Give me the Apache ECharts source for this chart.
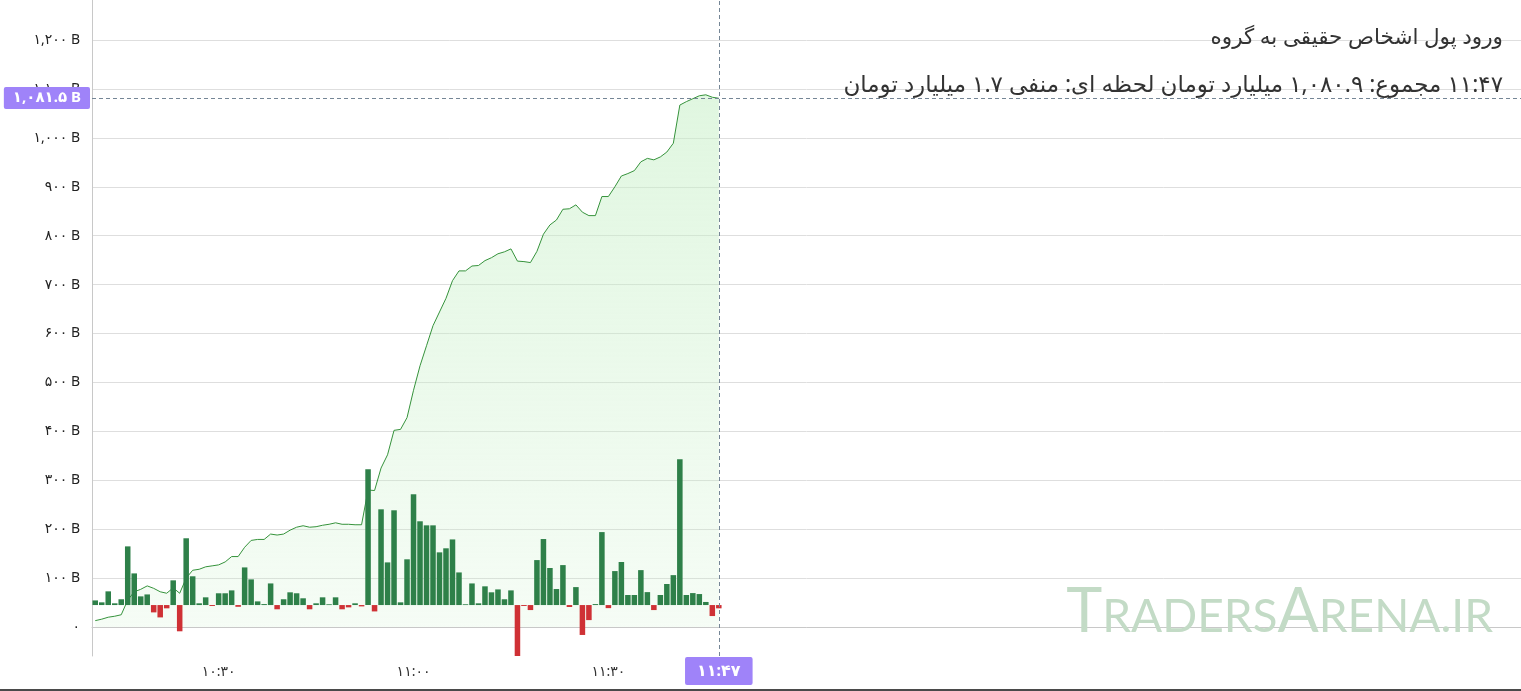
<!DOCTYPE html>
<html>
<head>
<meta charset="utf-8">
<script src="https://cdn.jsdelivr.net/npm/echarts@6/dist/echarts.min.js"></script>
<style>
  html, body { margin: 0; padding: 0; background: #fff; }
  #chart { width: 1521px; height: 691px; }
</style>
</head>
<body>
<div id="chart"></div>
<script>
  // minute bars from 10:11, the axis keeps going (empty) to the right edge
  const startTime = '10:11';
  const slotCount = 220;
  const shownTimes = ['10:30', '11:00', '11:30'];

  // cumulative inflow (billion toman), one value per minute 10:11 .. 11:47
  const totalFlow = [
    13, 16, 20, 22, 25, 55, 72, 77, 84, 79,
    72, 69, 80, 69, 100, 116, 118, 123, 125, 127,
    133, 144, 144, 163, 177, 179, 179, 190, 188, 190,
    198, 204, 207, 204, 205, 208, 210, 213, 210, 210,
    209, 209, 280, 279, 325, 352, 402, 404, 428, 484,
    534, 575, 616, 644, 672, 708, 728, 728, 738, 739,
    749, 755, 763, 767, 773, 748, 747, 745, 768, 803,
    822, 832, 854, 855, 863, 848, 841, 841, 880, 880,
    900, 922, 927, 933, 951, 958, 955, 961, 971, 989,
    1067, 1074, 1080, 1086, 1088, 1083, 1080.9
  ];

  // per-minute inflow (billion toman)
  const minuteFlow = [
    2.4, 1.4, 7.1, 0.9, 3.0, 30.4, 16.4, 4.5, 5.5, -3.8,
    -6.4, -1.7, 12.8, -13.6, 34.6, 14.9, 0.9, 4.0, -0.5, 6.1,
    6.1, 7.6, -0.9, 19.5, 13.3, 1.9, 0.5, 11.2, -2.2, 3.0,
    6.6, 6.1, 3.5, -2.2, 0.9, 4.0, 0.4, 4.0, -2.2, -1.2,
    0.9, -0.7, 70.3, -3.3, 49.6, 22.1, 49.1, 1.4, 23.7, 57.4,
    43.4, 41.3, 41.3, 27.3, 29.4, 34.0, 16.9, 0.4, 11.2, 0.9,
    9.7, 6.6, 8.1, 3.0, 7.6, -28, -0.5, -2.6, 23.3, 34.2,
    19.2, 8.3, 20.7, -1.0, 9.3, -15.5, -7.8, 0.5, 37.8, -1.6,
    17.6, 22.3, 5.2, 5.2, 18.1, 6.7, -2.6, 5.2, 10.9, 15.5,
    75.6, 5.2, 6.2, 5.7, 1.6, -5.7, -1.7
  ];

  const cursorTime = '11:47';
  const cursorValue = 1081.5;
  const titleText = 'ورود پول اشخاص حقیقی به گروه';

  const faDigits = '۰۱۲۳۴۵۶۷۸۹';
  function fa(s) {
    return String(s).replace(/[0-9]/g, d => faDigits[d]);
  }
  function fmtB(v) {
    if (v === 0) return '۰';
    return fa(v.toLocaleString('en-US', {maximumFractionDigits: 1})) + ' B';
  }

  let times = [];
  let [h, m] = startTime.split(':').map(Number);
  for (let i = 0; i < slotCount; i++) {
    times.push(h + ':' + (m < 10 ? '0' + m : m));
    m++;
    if (m === 60) { m = 0; h++; }
  }

  const lastTotal = totalFlow[totalFlow.length - 1];
  const lastMinute = minuteFlow[minuteFlow.length - 1];
  // leading RLM so the line runs right-to-left even though it starts with digits
  const infoText = '\u200F' + fa(cursorTime) + ' مجموع: ' + fa(lastTotal.toLocaleString('en-US', {minimumFractionDigits: 1})) +
    ' میلیارد تومان لحظه ای: ' + (lastMinute < 0 ? 'منفی ' : '') + fa(Math.abs(lastMinute).toFixed(1)) + ' میلیارد تومان';

  const fontFam = "'Noto Sans', 'DejaVu Sans', sans-serif";
  const purple = '#9f83f9';

  const myChart = echarts.init(document.getElementById('chart'));
  let option = {
    animation: false,
    grid: { left: 92, right: 0, top: 0, bottom: 35 },
    xAxis: {
      type: 'category',
      data: times,
      boundaryGap: true,
      axisLine: { lineStyle: { color: '#c8c8c8' } },
      axisTick: { show: false },
      splitLine: { show: false },
      axisLabel: {
        interval: (idx, val) => shownTimes.indexOf(val) >= 0,
        formatter: val => fa(val),
        color: '#333',
        fontSize: 14,
        fontFamily: fontFam,
        margin: 9
      }
    },
    yAxis: [
      {
        type: 'value',
        min: -59.3,
        max: 1281.8,
        splitNumber: 13,
        axisLine: { show: true, lineStyle: { color: '#c8c8c8' } },
        axisTick: { show: false },
        splitLine: {
          show: true,
          showMinLine: false,
          showMaxLine: false,
          lineStyle: { color: '#dedede' }
        },
        axisLabel: {
          showMinLabel: false,
          showMaxLabel: false,
          margin: 12,
          color: '#222',
          fontSize: 14,
          fontFamily: fontFam,
          formatter: v => (Math.abs(v % 100) > 1e-6 ? '' : fmtB(Math.round(v)))
        }
      },
      {
        type: 'value',
        show: false,
        min: -26.4,
        max: 313.5,
        splitLine: { show: false }
      }
    ],
    series: [
      {
        name: 'total',
        type: 'line',
        data: totalFlow,
        yAxisIndex: 0,
        showSymbol: false,
        symbol: 'none',
        z: 2,
        lineStyle: { color: '#35923b', width: 1 },
        areaStyle: {
          color: new echarts.graphic.LinearGradient(0, 0, 0, 1, [
            { offset: 0, color: 'rgba(200, 240, 200, 0.8)' },
            { offset: 1, color: 'rgba(200, 240, 200, 0.25)' }
          ])
        },
        markLine: {
          silent: true,
          symbol: ['none', 'none'],
          lineStyle: { color: '#758696', type: [4, 3], width: 1 },
          data: [
            {
              yAxis: cursorValue,
              label: {
                position: 'start',
                distance: 2,
                formatter: fmtB(cursorValue),
                color: '#fff',
                backgroundColor: purple,
                padding: [4, 9, 3, 9],
                borderRadius: 2,
                fontSize: 15,
                fontWeight: 'bold',
                fontFamily: fontFam
              }
            },
            {
              xAxis: cursorTime,
              label: {
                position: 'start',
                distance: 1,
                formatter: fa(cursorTime),
                color: '#fff',
                backgroundColor: purple,
                padding: [6, 12, 6, 12],
                borderRadius: 2,
                fontSize: 16,
                fontWeight: 'bold',
                fontFamily: fontFam
              }
            }
          ]
        }
      },
      {
        name: 'minute',
        type: 'bar',
        data: minuteFlow,
        yAxisIndex: 1,
        barWidth: '85%',
        z: 3,
        itemStyle: {
          color: p => (p.value >= 0 ? '#2e8049' : '#cf3135')
        }
      }
    ],
    graphic: [
      {
        type: 'text',
        right: 18,
        top: 27,
        z: 10,
        style: { text: titleText, font: '21.5px ' + fontFam, fill: '#333' }
      },
      {
        type: 'text',
        right: 18,
        top: 74,
        z: 10,
        style: { text: infoText, font: '23px ' + fontFam, fill: '#333' }
      },
      {
        type: 'text',
        right: 28,
        top: 582,
        z: 1,
        style: {
          text: '{b|T}{s|RADERS}{b|A}{s|RENA.IR}',
          fill: '#c3dbc6',
          rich: {
            b: { fontSize: 61, fontFamily: 'Lato', fill: '#c3dbc6', verticalAlign: 'bottom', lineHeight: 61 },
            s: { fontSize: 46, fontFamily: 'Lato', fill: '#c3dbc6', verticalAlign: 'bottom', lineHeight: 46, padding: [0, 0, 3, 0] }
          }
        }
      },
      {
        type: 'rect',
        left: 0,
        top: 689,
        shape: { width: 1521, height: 2 },
        style: { fill: '#4a4a4a' }
      }
    ]
  };
  myChart.setOption(option);
</script>
</body>
</html>
